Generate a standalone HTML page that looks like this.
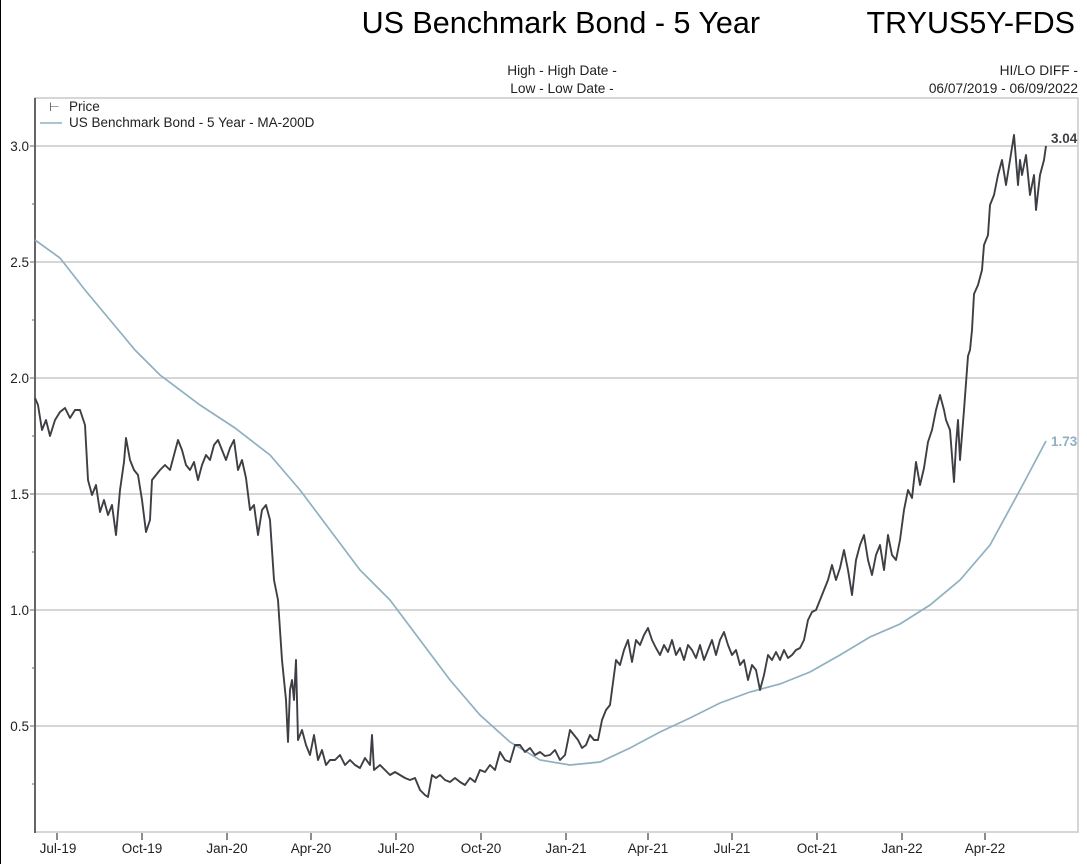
<!DOCTYPE html>
<html><head><meta charset="utf-8"><style>
body{margin:0;background:#fff;}
svg{display:block;font-family:"Liberation Sans",Arial,sans-serif;}
</style></head><body>
<svg width="1087" height="864" viewBox="0 0 1087 864" xmlns="http://www.w3.org/2000/svg">
<rect width="1087" height="864" fill="#fff"/>
<line x1="0.5" y1="0" x2="0.5" y2="864" stroke="#000" stroke-width="1"/>
<text x="760" y="33" font-size="30.5" text-anchor="end" fill="#000">US Benchmark Bond - 5 Year</text>
<text x="1075" y="33" font-size="30.5" text-anchor="end" fill="#000">TRYUS5Y-FDS</text>
<text x="562" y="75" font-size="13.7" text-anchor="middle" fill="#222">High - High Date -</text>
<text x="562" y="93" font-size="13.7" text-anchor="middle" fill="#222">Low - Low Date -</text>
<text x="1078" y="75" font-size="13.7" text-anchor="end" fill="#222">HI/LO DIFF -</text>
<text x="1078" y="93" font-size="13.7" text-anchor="end" fill="#222">06/07/2019 - 06/09/2022</text>
<rect x="35" y="98" width="1043" height="734" fill="none" stroke="#c8c8c8" stroke-width="1.5"/>
<g stroke="#c8c8c8" stroke-width="1.5">
<line x1="35" y1="146" x2="1078" y2="146"/>
<line x1="35" y1="262" x2="1078" y2="262"/>
<line x1="35" y1="378" x2="1078" y2="378"/>
<line x1="35" y1="494" x2="1078" y2="494"/>
<line x1="35" y1="610" x2="1078" y2="610"/>
<line x1="35" y1="726" x2="1078" y2="726"/>
</g>
<line x1="35" y1="98" x2="35" y2="833" stroke="#666" stroke-width="2"/>
<g stroke="#666" stroke-width="1">
<line x1="30" y1="146" x2="35" y2="146"/><line x1="30" y1="262" x2="35" y2="262"/><line x1="30" y1="378" x2="35" y2="378"/><line x1="30" y1="494" x2="35" y2="494"/><line x1="30" y1="610" x2="35" y2="610"/><line x1="30" y1="726" x2="35" y2="726"/>
<line x1="32" y1="204" x2="35" y2="204"/><line x1="32" y1="320" x2="35" y2="320"/><line x1="32" y1="436" x2="35" y2="436"/><line x1="32" y1="552" x2="35" y2="552"/><line x1="32" y1="668" x2="35" y2="668"/><line x1="32" y1="784" x2="35" y2="784"/>
</g>
<g font-size="13.5" fill="#222" text-anchor="end">
<text x="29" y="151">3.0</text><text x="29" y="267">2.5</text><text x="29" y="383">2.0</text><text x="29" y="499">1.5</text><text x="29" y="615">1.0</text><text x="29" y="731">0.5</text>
</g>
<g stroke="#666" stroke-width="1.5">
<line x1="57" y1="833" x2="57" y2="840"/><line x1="142" y1="833" x2="142" y2="840"/><line x1="227" y1="833" x2="227" y2="840"/><line x1="311" y1="833" x2="311" y2="840"/><line x1="396" y1="833" x2="396" y2="840"/><line x1="481" y1="833" x2="481" y2="840"/><line x1="566" y1="833" x2="566" y2="840"/><line x1="648" y1="833" x2="648" y2="840"/><line x1="732" y1="833" x2="732" y2="840"/><line x1="817" y1="833" x2="817" y2="840"/><line x1="902" y1="833" x2="902" y2="840"/><line x1="985" y1="833" x2="985" y2="840"/>
</g>
<g font-size="13.5" fill="#222" text-anchor="middle">
<text x="58" y="853">Jul-19</text><text x="142" y="853">Oct-19</text><text x="227" y="853">Jan-20</text><text x="311" y="853">Apr-20</text><text x="396" y="853">Jul-20</text><text x="481" y="853">Oct-20</text><text x="566" y="853">Jan-21</text><text x="648" y="853">Apr-21</text><text x="732" y="853">Jul-21</text><text x="817" y="853">Oct-21</text><text x="902" y="853">Jan-22</text><text x="985" y="853">Apr-22</text>
</g>
<text x="49" y="111" font-size="12" fill="#444">⊢</text>
<text x="69" y="111" font-size="13.5" fill="#222">Price</text>
<line x1="40" y1="123" x2="62" y2="123" stroke="#8fb0c0" stroke-width="1.5"/>
<text x="69" y="127" font-size="13.5" fill="#222">US Benchmark Bond - 5 Year - MA-200D</text>
<polyline fill="none" stroke="#8fb0c0" stroke-width="1.7" points="35,240 60,258 85,290 110,320 135,350 160,375 200,405 235,428 270,455 300,490 330,530 360,570 390,600 420,640 450,680 480,715 510,742 540,760 570,765 600,762 630,748 660,732 690,718 720,703 750,692 780,684 810,672 840,655 870,637 900,624 930,605 960,580 990,545 1020,490 1046,441"/>
<polyline fill="none" stroke="#3e3f44" stroke-width="1.9" stroke-linejoin="round" points="35,398 38,405 42,430 46,420 50,436 55,420 60,412 65,408 70,418 75,410 80,410 85,425 88,480 92,495 96,485 100,512 104,500 108,515 112,505 116,535 120,490 124,462 126,438 130,460 134,470 138,475 142,500 146,532 150,520 152,480 156,475 160,470 165,465 170,470 174,455 178,440 182,450 186,465 190,470 194,462 198,480 202,465 206,455 210,460 214,445 218,440 222,450 226,460 230,448 234,440 238,470 242,460 246,478 250,510 254,505 258,535 262,510 266,505 270,520 274,580 278,600 282,660 286,700 288,742 290,690 292,680 294,700 296,660 298,740 302,730 306,745 310,755 314,735 318,760 322,750 326,765 330,760 335,760 340,755 345,765 350,760 355,765 360,768 365,758 370,765 372,735 374,770 380,765 385,770 390,775 395,772 400,775 405,778 410,780 415,778 420,790 425,795 428,797 432,775 436,778 440,775 445,780 450,782 455,778 460,782 465,785 470,778 475,782 480,770 485,772 490,765 495,770 500,752 505,760 510,762 515,745 520,745 525,752 530,748 535,755 540,752 545,756 550,755 555,750 560,760 565,755 570,730 574,735 578,740 582,748 586,745 590,735 594,740 598,740 602,720 606,710 610,705 612,690 616,660 620,665 624,650 628,640 632,662 636,640 640,645 644,635 648,628 652,640 656,648 660,655 664,645 668,652 672,640 676,655 680,648 684,660 688,645 692,650 696,658 700,645 704,660 708,650 712,640 716,655 720,640 724,632 728,645 732,655 736,650 740,665 744,660 748,680 752,665 756,670 760,690 764,675 768,655 772,660 776,652 780,660 784,650 788,658 792,655 796,650 800,648 804,640 808,620 812,612 816,610 820,600 824,590 828,580 832,565 836,580 840,568 844,550 848,570 852,595 856,560 860,545 864,535 868,560 872,575 876,555 880,545 884,570 888,535 892,555 896,560 900,540 904,510 908,490 912,498 916,462 920,485 924,468 928,442 932,430 936,410 940,395 944,410 946,420 950,430 954,482 956,445 958,420 960,460 964,410 968,356 970,350 972,330 974,294 978,285 982,270 984,245 988,235 990,205 994,195 998,175 1002,160 1006,185 1010,160 1014,135 1018,185 1020,160 1022,175 1026,155 1030,195 1034,175 1036,210 1040,175 1044,160 1046,146"/>
<text x="1051" y="143" font-size="13.5" font-weight="bold" fill="#3e3f44">3.04</text>
<text x="1051" y="446" font-size="13.5" font-weight="bold" fill="#8fb0c0">1.73</text>
</svg>
</body></html>
